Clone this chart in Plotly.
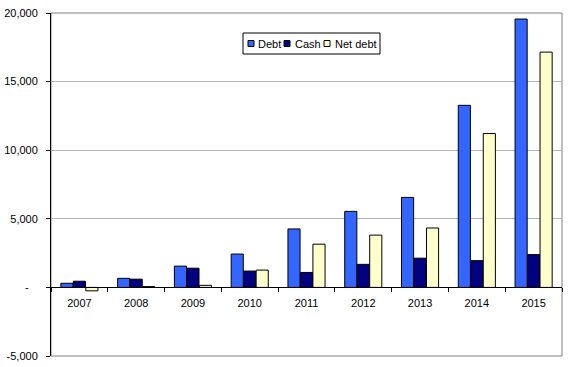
import plotly.graph_objects as go

years = ["2007", "2008", "2009", "2010", "2011", "2012", "2013", "2014", "2015"]
debt = [300, 660, 1550, 2430, 4260, 5540, 6560, 13270, 19560]
cash = [450, 600, 1400, 1190, 1090, 1680, 2130, 1950, 2390]
net_debt = [-250, 60, 150, 1260, 3150, 3810, 4330, 11220, 17150]
series_names = ["Debt", "Cash", "Net debt"]
series_colors = ["#3366FF", "#000080", "#FFFFCC"]

y_tickvals = [-5000, 0, 5000, 10000, 15000, 20000]
y_ticktext = ["-5,000", "-\u00a0\u00a0\u00a0", "5,000", "10,000", "15,000", "20,000"]

W, H = 571, 367
ML, MR, MT, MB = 51, 9, 13, 11
PW, PH = W - ML - MR, H - MT - MB

def px_x(p):
    return (p - ML) / PW

def px_y(p):
    return (H - MB - p) / PH

font = dict(family="Arial, Liberation Sans, sans-serif", size=11, color="black")

fig = go.Figure()
for name, vals, col in zip(series_names, [debt, cash, net_debt], series_colors):
    fig.add_bar(x=years, y=vals, name=name,
                marker=dict(color=col, line=dict(color="black", width=1)))

shapes = [dict(type="rect", xref="paper", yref="paper", x0=0, x1=1, y0=0, y1=1,
               line=dict(color="#808080", width=1), layer="below")]
annotations = []

# legend box (drawn manually to match the compact Excel legend)
shapes.append(dict(type="rect", xref="paper", yref="paper",
                   x0=px_x(243), x1=px_x(380), y0=px_y(54), y1=px_y(33),
                   line=dict(color="black", width=1), fillcolor="white", layer="above"))
sq_x = [248, 284, 324]
tx_x = [256, 293, 333]
for name, col, sx, tx in zip(series_names, series_colors, sq_x, tx_x):
    shapes.append(dict(type="rect", xref="paper", yref="paper",
                       x0=px_x(sx), x1=px_x(sx + 6), y0=px_y(46.5), y1=px_y(40.5),
                       line=dict(color="black", width=1), fillcolor=col, layer="above"))
    annotations.append(dict(x=px_x(tx), y=px_y(43.5), xref="paper", yref="paper",
                            text=name, showarrow=False, xanchor="left", yanchor="middle",
                            font=font))

fig.update_layout(
    width=W, height=H,
    margin=dict(l=ML, r=MR, t=MT, b=MB),
    paper_bgcolor="white", plot_bgcolor="white",
    font=font,
    barmode="group", bargap=0.34, bargroupgap=0.03,
    showlegend=False,
    xaxis=dict(type="category", range=[-0.5, 8.5], anchor="free", position=0.2,
               showline=True, linecolor="black", linewidth=1,
               ticks="outside", tickson="boundaries", ticklen=4, tickcolor="black",
               showgrid=False, ticklabelstandoff=5, automargin=False),
    yaxis=dict(range=[-5000, 20000], tickvals=y_tickvals, ticktext=y_ticktext,
               showline=True, linecolor="black", linewidth=1,
               ticks="outside", ticklen=4, tickcolor="black",
               showgrid=True, gridcolor="#B4B4B4", gridwidth=1,
               zeroline=False, ticklabelstandoff=6, automargin=False),
    shapes=shapes,
    annotations=annotations,
)

fig.write_html("out.html", config={"displayModeBar": False},
               post_script="document.body.style.margin='0px';")
